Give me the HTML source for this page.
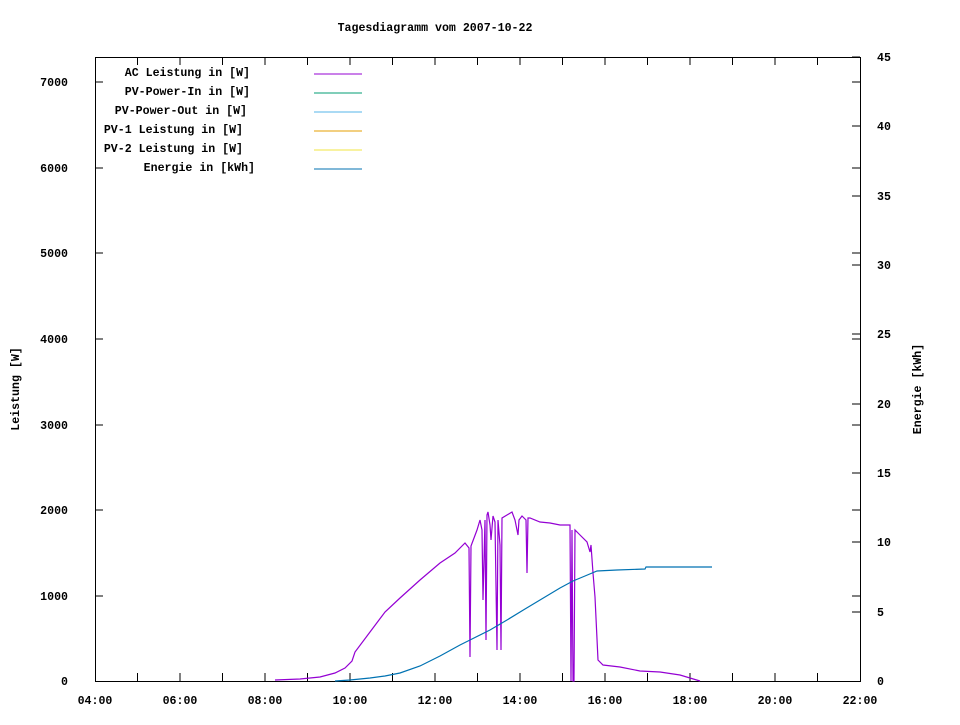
<!DOCTYPE html>
<html><head><style>body{margin:0;background:#fff}svg text{font-family:"Liberation Mono",monospace;font-size:11.6px;font-weight:bold;fill:#000}</style></head><body>
<svg width="960" height="720" xmlns="http://www.w3.org/2000/svg">
<rect width="960" height="720" fill="#fff"/>
<text x="435" y="31" text-anchor="middle">Tagesdiagramm vom 2007-10-22</text>
<rect x="95.5" y="57.5" width="765" height="624" fill="none" stroke="#000"/>
<g stroke="#000">
<path d="M95 596h8M95 510h8M95 425h8M95 339h8M95 253h8M95 168h8M95 82h8M860 596h-8M860 510h-8M860 425h-8M860 339h-8M860 253h-8M860 168h-8M860 82h-8"/>
<path d="M860 612h-8M860 542h-8M860 473h-8M860 404h-8M860 334h-8M860 265h-8M860 196h-8M860 126h-8M860 57h-8"/>
<path d="M137.5 681v-8M180 681v-8M222.5 681v-8M265 681v-8M307.5 681v-8M350 681v-8M392.5 681v-8M435 681v-8M477.5 681v-8M520 681v-8M562.5 681v-8M605 681v-8M647.5 681v-8M690 681v-8M732.5 681v-8M775 681v-8M817.5 681v-8"/>
<path d="M137.5 57v8M180 57v8M222.5 57v8M265 57v8M307.5 57v8M350 57v8M392.5 57v8M435 57v8M477.5 57v8M520 57v8M562.5 57v8M605 57v8M647.5 57v8M690 57v8M732.5 57v8M775 57v8M817.5 57v8"/>
</g>
<g text-anchor="end"><text x="68" y="685">0</text><text x="68" y="600">1000</text><text x="68" y="514">2000</text><text x="68" y="429">3000</text><text x="68" y="343">4000</text><text x="68" y="257">5000</text><text x="68" y="172">6000</text><text x="68" y="86">7000</text></g>
<g><text x="877" y="685">0</text><text x="877" y="616">5</text><text x="877" y="546">10</text><text x="877" y="477">15</text><text x="877" y="408">20</text><text x="877" y="338">25</text><text x="877" y="269">30</text><text x="877" y="200">35</text><text x="877" y="130">40</text><text x="877" y="61">45</text></g>
<g text-anchor="middle"><text x="95" y="704">04:00</text><text x="180" y="704">06:00</text><text x="265" y="704">08:00</text><text x="350" y="704">10:00</text><text x="435" y="704">12:00</text><text x="520" y="704">14:00</text><text x="605" y="704">16:00</text><text x="690" y="704">18:00</text><text x="775" y="704">20:00</text><text x="860" y="704">22:00</text></g>
<text transform="translate(19,389) rotate(-90)" text-anchor="middle">Leistung [W]</text>
<text transform="translate(921,389) rotate(-90)" text-anchor="middle">Energie [kWh]</text>
<g text-anchor="end"><text x="250" y="76">AC Leistung in [W]</text><text x="250" y="95">PV-Power-In in [W]</text><text x="247" y="114">PV-Power-Out in [W]</text><text x="243" y="133">PV-1 Leistung in [W]</text><text x="243" y="152">PV-2 Leistung in [W]</text><text x="255" y="171">Energie in [kWh]</text></g>
<g stroke-width="1"><path d="M314 74h48" stroke="#9400d3"/><path d="M314 93h48" stroke="#009e73"/><path d="M314 112h48" stroke="#56b4e9"/><path d="M314 131h48" stroke="#e69f00"/><path d="M314 150h48" stroke="#f0e442"/><path d="M314 169h48" stroke="#0072b2"/></g>
<polyline fill="none" stroke="#9400d3" stroke-width="1.2" points="275,680 300,679 320,677 335,673 345,668 352,661 355,652 370,632 385,612 400,598 420,580 440,563 455,553 465,543 469,548 470,657 471,546 477,530 480,520 482,530 483,600 485,520 486,640 487,515 488,512 490,525 491,540 493,516 495,522 497,650 498,520 500,545 501,650 502,518 507,515 512,512 515,520 518,535 519,520 522,516 526,520 527,573 528,518 530,518 540,522 550,523 560,525 570,525 571,681 572,530 573,681 574,681 575,530 580,535 587,542 590,552 591,545 593,573 595,597 598,660 603,665 620,667 640,671 660,672 680,675 690,678 700,681"/>
<polyline fill="none" stroke="#0072b2" stroke-width="1.2" points="335,681 350,680 370,678 385,676 400,673 420,666 440,656 460,645 470,640 490,630 507,620 525,609 540,600 560,588 573,581 585,576 597,571 617,570 645,569 646,567 712,567"/>
</svg>
</body></html>
